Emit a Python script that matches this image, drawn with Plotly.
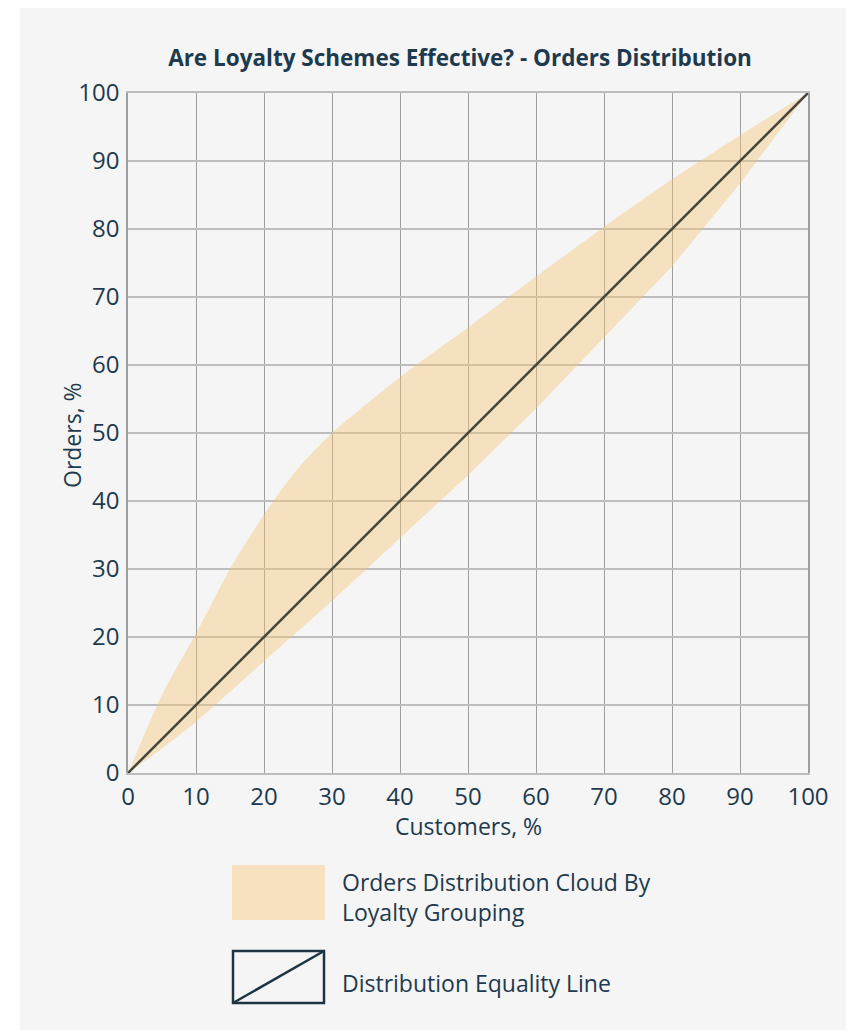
import plotly.graph_objects as go

# ---- data ----
customers = [0, 5, 10, 15, 20, 25, 30, 40, 50, 60, 70, 80, 90, 100]
orders_upper = [0, 11.5, 20.5, 30, 38, 44.8, 50, 58.2, 65.5, 73, 80.3, 87.3, 93.8, 100]
orders_lower = [0, 3.6, 7.5, 12, 16.4, 20.9, 25.3, 34.5, 43.8, 53.6, 64, 74.5, 86.7, 100]
equality_x = [0, 100]
equality_y = [0, 100]
x_ticks = [0, 10, 20, 30, 40, 50, 60, 70, 80, 90, 100]
y_ticks = [0, 10, 20, 30, 40, 50, 60, 70, 80, 90, 100]

title_text = "<b>Are Loyalty Schemes Effective? - Orders Distribution</b>"
x_title = "Customers, %"
y_title = "Orders, %"
legend_cloud = "Orders Distribution Cloud By<br>Loyalty Grouping"
legend_line = "Distribution Equality Line"

FONT = "'Open Sans', Lato, sans-serif"
NAVY = "#1d3a4e"
FILL = "rgba(245,198,120,0.42)"
LINE = "#46453a"

OFF = 8  # page offset of the figure (body margin)
W, H = 854, 1030
# plot area in screen pixels
SL, SR, ST, SB = 128, 808, 93, 773
L, R, T, B = SL - OFF, SR - OFF, ST - OFF, SB - OFF


def px_x(p):
    return (p - OFF - L) / (R - L)


def px_y(p):
    return (B - (p - OFF)) / (B - T)


fig = go.Figure()
fig.add_trace(go.Scatter(x=customers, y=orders_lower, mode="lines",
                         line=dict(width=0, color=FILL), hoverinfo="skip",
                         showlegend=False))
fig.add_trace(go.Scatter(x=customers, y=orders_upper, mode="lines",
                         line=dict(width=0, color=FILL, shape="spline", smoothing=0.6),
                         fill="tonexty", fillcolor=FILL, hoverinfo="skip",
                         showlegend=False))
fig.add_trace(go.Scatter(x=equality_x, y=equality_y, mode="lines",
                         line=dict(width=2.5, color=LINE), showlegend=False))

shapes = [
    # panel background
    dict(type="rect", xref="paper", yref="paper", layer="below",
         x0=px_x(20), x1=px_x(847), y0=px_y(1040), y1=px_y(8),
         fillcolor="#f5f5f5", line=dict(width=0)),
    dict(type="rect", xref="paper", yref="paper", layer="below",
         x0=px_x(847), x1=px_x(870), y0=px_y(1040), y1=px_y(0),
         fillcolor="#ececec", line=dict(width=0)),
    # legend swatches
    dict(type="rect", xref="paper", yref="paper",
         x0=px_x(232), x1=px_x(325), y0=px_y(920), y1=px_y(865),
         fillcolor="#f8e1bf", line=dict(width=0)),
    dict(type="rect", xref="paper", yref="paper",
         x0=px_x(233), x1=px_x(324), y0=px_y(1003), y1=px_y(951),
         fillcolor="rgba(0,0,0,0)", line=dict(width=2.5, color="#1c3545")),
    dict(type="line", xref="paper", yref="paper",
         x0=px_x(233), x1=px_x(324), y0=px_y(1003), y1=px_y(951),
         line=dict(width=2.5, color="#1c3545")),
]

annotations = [
    dict(text=legend_cloud, xref="paper", yref="paper", x=px_x(340), y=px_y(897),
         xanchor="left", yanchor="middle", align="left", showarrow=False,
         font=dict(family=FONT, size=23, color=NAVY)),
    dict(text=legend_line, xref="paper", yref="paper", x=px_x(340), y=px_y(983),
         xanchor="left", yanchor="middle", align="left", showarrow=False,
         font=dict(family=FONT, size=23, color=NAVY)),
    dict(text=x_title, xref="paper", yref="paper", x=px_x(468), y=px_y(826),
         xanchor="center", yanchor="middle", showarrow=False,
         font=dict(family=FONT, size=23, color=NAVY)),
    dict(text=y_title, xref="paper", yref="paper", x=px_x(72), y=px_y(435),
         xanchor="center", yanchor="middle", showarrow=False, textangle=-90,
         font=dict(family=FONT, size=23, color=NAVY)),
]

fig.update_layout(
    width=W, height=H,
    margin=dict(l=L, r=W - R, t=T, b=H - B, pad=0),
    paper_bgcolor="#ffffff",
    plot_bgcolor="#f5f5f5",
    title=dict(text=title_text, x=(460 - OFF) / W, xanchor="center",
               y=1 - (58 - OFF) / H, yanchor="middle",
               font=dict(family=FONT, size=22.5, color=NAVY)),
    font=dict(family=FONT, color=NAVY),
    shapes=shapes,
    annotations=annotations,
    showlegend=False,
)
fig.update_xaxes(range=[0, 100], tickvals=x_ticks, ticktext=[str(v) for v in x_ticks],
                 showgrid=True, gridcolor="#9e9e9e", gridwidth=1,
                 showline=True, linecolor="#bdbdbd", linewidth=2, mirror=True,
                 zeroline=False, ticks="", ticklabelstandoff=1,
                 tickfont=dict(family=FONT, size=24, color=NAVY))
fig.update_yaxes(range=[0, 100], tickvals=y_ticks, ticktext=[str(v) for v in y_ticks],
                 showgrid=True, gridcolor="#bdbdbd", gridwidth=2,
                 showline=True, linecolor="#9e9e9e", linewidth=1.5, mirror=True,
                 zeroline=False, ticks="", ticklabelstandoff=2,
                 tickfont=dict(family=FONT, size=24, color=NAVY))

fig.write_html("out.html")
